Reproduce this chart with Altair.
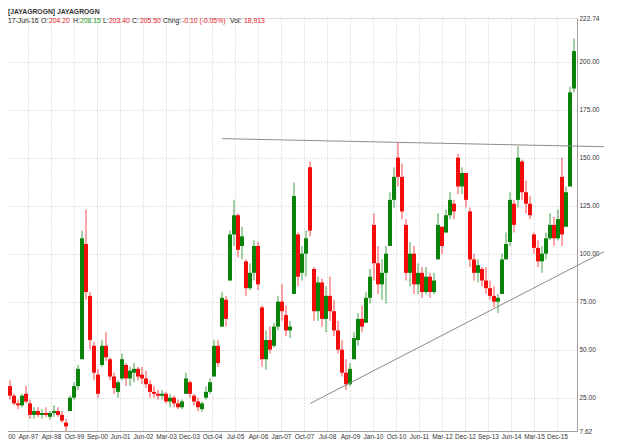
import altair as alt
import pandas as pd

# ---- data (one candle per ~4px bucket) ----
OPEN = [None, 114, 31, 26, 22, 21, 27, 22, 16, 18, 16, 17, 15, 17, 18, 16, 12, 18, 25, 31,
        45, 105, 78, 52, 37, 42, 52, 45, 36, 28, 35, 42, 35, 38, 40, 37, 35, 32, 28, 27,
        26, 27, 23, 25, 22, 20, 27, 33, 26, 23, 19, 25, 28, 36, 52, 62, 76, 86, 110, 120,
        104, 96, 82, 90, 104, 72, 45, 55, 52, 62, 75, 68, 60, 79, 110, 90, 100, 145, 92, 70,
        85, 66, 78, 70, 60, 50, 38, 32, 45, 55, 66, 64, 77, 115, 95, 84, 90, 104, 128, 150,
        140, 115, 90, 100, 84, 90, 80, 88, 80, 97, 114, 111, 120, 126, 150, 135, 142, 122, 97, 90,
        92, 86, 82, 78, 75, 79, 97, 106, 126, 128, 148, 132, 126, 110, 103, 96, 100, 108, 115, 108,
        140, 114, 135, 186]
HIGH = [None, 116, 34, 27, 24, 27, 31, 24, 20, 20, 19, 20, 18, 21, 20, 18, 14, 26, 33, 42,
        112, 123, 80, 54, 40, 55, 59, 46, 38, 34, 48, 43, 41, 43, 41, 41, 39, 34, 31, 29,
        29, 28, 27, 26, 24, 24, 38, 34, 27, 25, 23, 31, 35, 55, 55, 80, 78, 112, 128, 121,
        114, 97, 95, 107, 106, 73, 60, 62, 64, 78, 84, 73, 65, 137, 111, 104, 112, 148, 93, 88,
        87, 83, 88, 76, 65, 55, 45, 43, 59, 69, 73, 80, 92, 121, 104, 97, 104, 132, 145, 158,
        147, 118, 106, 104, 95, 93, 93, 90, 90, 121, 114, 123, 132, 128, 152, 145, 142, 124, 100, 97,
        93, 93, 86, 83, 79, 100, 111, 132, 128, 156, 149, 138, 130, 111, 107, 104, 111, 121, 119, 123,
        150, 135, 187, 212]
LOW = [None, 111, 24, 21, 19, 20, 22, 14, 14, 15, 14, 15, 13.5, 15, 15, 12, 7.62, 18, 24, 29,
       45, 76, 50, 34, 25, 41, 44, 34, 27, 25, 34, 31, 31, 33, 34, 32, 30, 25, 25, 24,
       24, 22, 20, 20, 19, 19, 27, 25, 21, 18, 17.6, 24, 27, 36, 41, 62, 62, 86, 104, 98,
       97, 78, 81, 86, 81, 41, 39.5, 48, 51, 60, 65, 57, 56, 79, 83, 86, 88, 109, 65, 65,
       62, 59, 65, 57, 48, 36, 29, 31, 45, 52, 59, 64, 74, 86, 79, 76, 74, 104, 124, 135,
       118, 86, 83, 79, 79, 77, 79, 77, 79, 97, 100, 111, 118, 118, 131, 131, 124, 93, 86, 85,
       83, 79, 76, 72, 69, 79, 97, 104, 111, 124, 128, 121, 118, 100, 93, 90, 97, 107, 104, 107,
       104, 114, 135, 184]
CLOSE = [None, 112, 26, 22, 21, 26, 23, 16, 18, 16, 17, 16, 17, 18, 16, 13, 10, 25, 31, 40,
         108, 80, 55, 38, 27, 52, 46, 36, 30, 33, 45, 35, 39, 40, 36, 35, 32, 28, 27, 26,
         27, 23, 25, 22, 20, 23, 35, 27, 23, 20, 22, 28, 33, 52, 43, 77, 66, 110, 120, 102,
         109, 82, 90, 104, 84, 45, 55, 50, 62, 75, 70, 60, 62, 130, 88, 100, 108, 112, 70, 85,
         66, 78, 70, 60, 50, 38, 32, 40, 56, 66, 62, 77, 88, 95, 84, 90, 100, 128, 140, 140,
         122, 90, 100, 84, 90, 80, 88, 80, 86, 115, 104, 120, 128, 122, 135, 142, 128, 97, 90, 94,
         86, 82, 78, 75, 77, 97, 105, 128, 115, 150, 132, 126, 120, 103, 96, 100, 108, 115, 108, 118,
         110, 132, 184, 205.5]

X_LABELS = ["Jan-00", "Apr-97", "Apr-98", "Oct-99", "Sep-00", "Jun-01", "Jun-02", "Mar-03",
            "Dec-03", "Oct-04", "Jul-05", "Apr-06", "Jan-07", "Oct-07", "Jul-08", "Apr-09",
            "Jan-10", "Oct-10", "Jun-11", "Mar-12", "Dec-12", "Sep-13", "Jun-14", "Mar-15", "Dec-15"]
Y_TICKS = [7.62, 25, 50, 75, 100, 125, 150, 175, 200, 222.74]

# trend lines (bucket index, price)
TOP_LINE_X = [55.5, 151.0]
TOP_LINE_Y = [159.9, 155.7]
LOW_LINE_X = [77.5, 151.0]
LOW_LINE_Y = [21.9, 101.0]

HEADER_1 = "[JAYAGROGN] JAYAGROGN"
HEADER_2 = [("17-Jun-16", "#222222"), ("O:", "#222222"), ("204.20", "#e8141c"),
            ("H:", "#222222"), ("208.15", "#1a9a1a"), ("L:", "#222222"), ("203.40", "#e8141c"),
            ("C:", "#222222"), ("205.50", "#e8141c"), ("Chng:", "#222222"),
            ("-0.10 (-0.05%)", "#e8141c"), ("Vol:", "#222222"), ("18,913", "#e8141c")]
HEADER_2_X = [8, 41, 49, 73, 80, 103, 109, 132, 140, 163, 182, 230, 244]

# ---- build table ----
rows = []
for i, (o, h, l, c) in enumerate(zip(OPEN, HIGH, LOW, CLOSE)):
    if o is None:
        continue
    rows.append({"t": i + 0.5, "open": o, "high": h, "low": l, "close": c,
                 "dir": "up" if c >= o else "down"})
df = pd.DataFrame(rows)

N_BUCKETS = 144.25
W, H = 577, 413
tick_pos = [(5 + 23 * k) / 4 for k in range(len(X_LABELS))]
lab_arr = "[" + ",".join("'%s'" % s for s in X_LABELS) + "]"
label_expr = lab_arr + "[round((datum.value * 4 - 5) / 23)]"

FONT = "Liberation Sans"
xscale = alt.Scale(domain=[0, N_BUCKETS], nice=False, zero=False)
yscale = alt.Scale(domain=[7.62, 222.74], nice=False, zero=False)
color = alt.Color("dir:N", scale=alt.Scale(domain=["up", "down"], range=["#0a830a", "#f20d0d"]),
                  legend=None)

xaxis = alt.Axis(values=tick_pos, labelExpr=label_expr, title=None, grid=True,
                 gridDash=[1, 2], gridColor="#c8c8c8", ticks=False, domainColor="#a0a0a0",
                 labelFont=FONT, labelFontSize=6.5, labelColor="#333333", labelPadding=2,
                 labelOverlap=False, labelBound=False, labelFlush=False)
yaxis = alt.Axis(values=Y_TICKS, format=".2f", orient="right", title=None, grid=True,
                 gridDash=[1, 2], gridColor="#c8c8c8",
                 gridOpacity=alt.condition("datum.value < 8 || datum.value > 222", alt.value(0), alt.value(1)),
                 ticks=False, domainColor="#a0a0a0", labelFont=FONT, labelFontSize=6.5,
                 labelColor="#333333", labelPadding=2, labelOverlap=False, labelBound=False,
                 labelFlush=False)

base = alt.Chart(df)
wick = base.mark_rule(strokeWidth=1, opacity=0.75).encode(
    x=alt.X("t:Q", scale=xscale, axis=xaxis),
    y=alt.Y("low:Q", scale=yscale, axis=yaxis),
    y2="high:Q",
    color=color,
)
body = base.mark_rule(strokeWidth=4, strokeCap="butt").encode(
    x=alt.X("t:Q", axis=xaxis), y=alt.Y("open:Q", axis=yaxis), y2="close:Q", color=color,
)

top_df = pd.DataFrame({"t": TOP_LINE_X, "p": TOP_LINE_Y})
low_df = pd.DataFrame({"t": LOW_LINE_X, "p": LOW_LINE_Y})
top_line = alt.Chart(top_df).mark_line(color="#8c8c8c", strokeWidth=1).encode(
    x=alt.X("t:Q", axis=xaxis), y=alt.Y("p:Q", axis=yaxis))
low_line = alt.Chart(low_df).mark_line(color="#8c8c8c", strokeWidth=1).encode(
    x=alt.X("t:Q", axis=xaxis), y=alt.Y("p:Q", axis=yaxis))

one = pd.DataFrame({"a": [0]})
texts = [alt.Chart(one).mark_text(align="left", baseline="middle", font=FONT, fontSize=6.8,
                                   fontWeight="bold").encode(
    x=alt.value(8), y=alt.value(-6), text=alt.value(HEADER_1), color=alt.value("#333333"))]
for (s, col), px in zip(HEADER_2, HEADER_2_X):
    texts.append(alt.Chart(one).mark_text(align="left", baseline="middle", font=FONT, fontSize=6.8,
                                           fontWeight="normal").encode(
        x=alt.value(px), y=alt.value(2.5), text=alt.value(s), color=alt.value(col)))

chart = alt.layer(wick, body, top_line, low_line, *texts).properties(
    width=W, height=H,
    autosize=alt.AutoSizeParams(type="none"),
    padding={"left": -8, "top": 10, "right": 55, "bottom": 9},
).configure_view(stroke=None).configure(background="white").configure_axis(
    labelOverlap=False, labelBound=False, labelFlush=False)

chart.save("out.html", embed_options={"renderer": "svg", "actions": False})
